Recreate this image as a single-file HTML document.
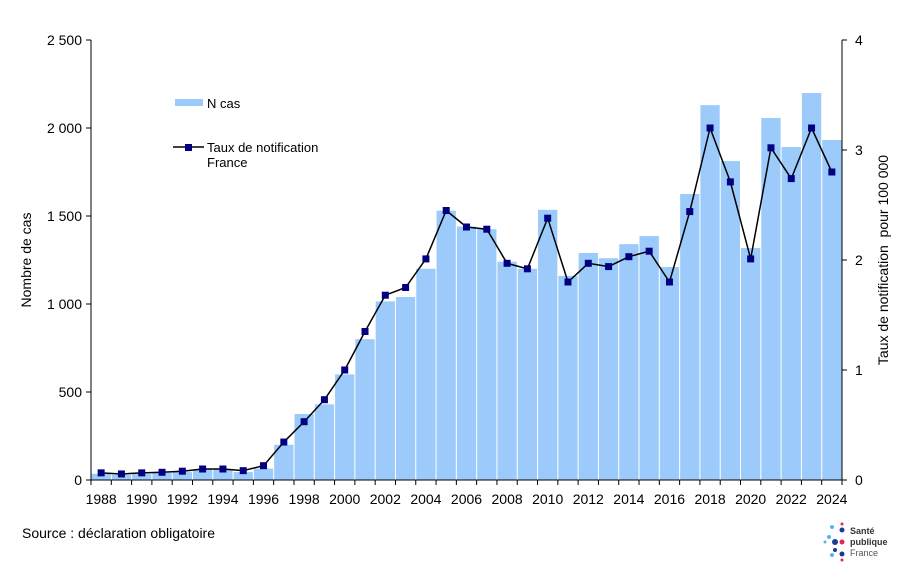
<!DOCTYPE html>
<html><head><meta charset="utf-8"><style>
html,body{margin:0;padding:0;background:#fff;width:900px;height:568px;overflow:hidden}
text{font-family:"Liberation Sans",Arial,sans-serif;fill:#000}
</style></head><body>
<svg id="s" width="900" height="568" xmlns="http://www.w3.org/2000/svg">
<g id="bars"></g>
<g id="axes" stroke="#000" stroke-width="1" fill="none"></g>
<g id="lbl" font-size="14"></g>
<text x="175" y="108" font-size="13" dx="32">N cas</text>
<rect x="175" y="99" width="28" height="7" fill="#9ccbfb"/>
<line x1="173" y1="147" x2="204" y2="147" stroke="#000" stroke-width="1.5"/>
<rect x="185" y="144" width="7" height="7" fill="#000080"/>
<text x="207" y="152" font-size="13">Taux de notification</text>
<text x="207" y="167" font-size="13">France</text>
<text transform="translate(31,260) rotate(-90)" text-anchor="middle" font-size="14">Nombre de cas</text>
<text transform="translate(888,260) rotate(-90)" text-anchor="middle" font-size="14">Taux de notification&#160; pour 100 000</text>
<text x="22" y="538" font-size="14">Source : déclaration obligatoire</text>
<g>
<circle cx="829" cy="537" r="2" fill="#55b7ec"/><circle cx="842" cy="524" r="1.5" fill="#e4245b"/>
<circle cx="832" cy="527" r="2" fill="#55b7ec"/><circle cx="842" cy="530" r="2.5" fill="#1a3a94"/>
<circle cx="835" cy="542" r="3" fill="#1a3a94"/><circle cx="842" cy="542" r="2.5" fill="#e4245b"/>
<circle cx="842" cy="554" r="2.5" fill="#1a3a94"/><circle cx="835" cy="550" r="2" fill="#1a3a94"/>
<circle cx="832" cy="555" r="2" fill="#55b7ec"/><circle cx="842" cy="560" r="1.5" fill="#e4245b"/>
<circle cx="825" cy="542" r="1.5" fill="#55b7ec"/>
<text x="850" y="534" font-size="9" font-weight="bold" style="fill:#333">Santé</text>
<text x="850" y="545" font-size="9" font-weight="bold" style="fill:#333">publique</text>
<text x="850" y="556" font-size="9" style="fill:#555">France</text>
</g>
</svg>
<script>
var cases=[35,30,35,40,45,60,60,45,65,200,375,430,600,800,1015,1040,1200,1530,1440,1425,1240,1200,1535,1160,1290,1260,1340,1386,1210,1625,2130,1812,1318,2057,1892,2199,1932];
var rate=[0.065,0.055,0.065,0.07,0.08,0.1,0.1,0.085,0.13,0.345,0.53,0.73,1.0,1.35,1.68,1.75,2.01,2.45,2.3,2.28,1.97,1.92,2.38,1.8,1.97,1.94,2.03,2.08,1.8,2.44,3.2,2.71,2.01,3.02,2.74,3.2,2.8];
var L=91,R=842,T=40,B=480,n=37,w=(R-L)/n,NS="http://www.w3.org/2000/svg";
function el(p,t,a){var e=document.createElementNS(NS,t);for(var k in a)e.setAttribute(k,a[k]);p.appendChild(e);return e;}
var bars=document.getElementById('bars'),ax=document.getElementById('axes'),lb=document.getElementById('lbl');
var pts=[];
for(var i=0;i<n;i++){var x=L+i*w,h=cases[i]*440/2500;
el(bars,'rect',{x:x+0.5,y:B-h,width:w-1,height:h,fill:'#9ccbfb'});
pts.push((x+w/2)+','+(B-rate[i]*110));}
el(bars,'polyline',{points:pts.join(' '),fill:'none',stroke:'#000','stroke-width':1.5});
for(var i=0;i<n;i++){var p=pts[i].split(',');el(bars,'rect',{x:+p[0]-3.5,y:+p[1]-3.5,width:7,height:7,fill:'#000080'});}
el(ax,'line',{x1:L,y1:T,x2:L,y2:B});el(ax,'line',{x1:R,y1:T,x2:R,y2:B});el(ax,'line',{x1:L,y1:B,x2:R,y2:B});
var ll=['0','500','1 000','1 500','2 000','2 500'];
for(var k=0;k<=5;k++){var y=B-k*88;el(ax,'line',{x1:L-5,y1:y,x2:L,y2:y});
var t=el(lb,'text',{x:L-9,y:y+5,'text-anchor':'end'});t.textContent=ll[k];}
for(var k=0;k<=4;k++){var y=B-k*110;el(ax,'line',{x1:R,y1:y,x2:R+5,y2:y});
var t=el(lb,'text',{x:R+13,y:y+5});t.textContent=k;}
for(var i=0;i<=n;i++){var x=L+i*w;el(ax,'line',{x1:x,y1:B,x2:x,y2:B+5});}
for(var i=0;i<n;i+=2){var t=el(lb,'text',{x:L+i*w+w/2,y:B+24,'text-anchor':'middle'});t.textContent=1988+i;}
</script>
</body></html>
